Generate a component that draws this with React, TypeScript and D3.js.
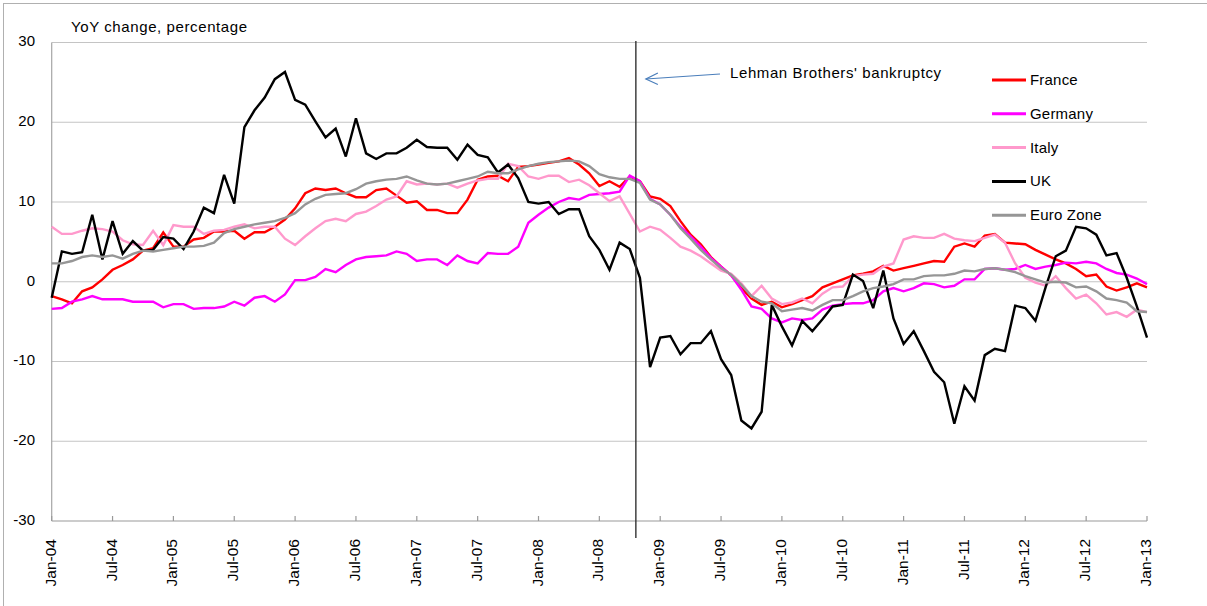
import { useMemo } from 'react';
import * as d3 from 'd3';

const width = 1207;
const height = 606;

const specs = {
  left: 51.7,
  right: 1147,
  top: 42.5,
  bottom: 521,
};

const FONT = '"Liberation Sans", Arial, sans-serif';

// tick labels every 6 months, Jan-04 .. Jan-13
const tickLabels = [
  'Jan-04', 'Jul-04', 'Jan-05', 'Jul-05', 'Jan-06', 'Jul-06', 'Jan-07', 'Jul-07',
  'Jan-08', 'Jul-08', 'Jan-09', 'Jul-09', 'Jan-10', 'Jul-10', 'Jan-11', 'Jul-11',
  'Jan-12', 'Jul-12', 'Jan-13',
];
const yTicks = [30, 20, 10, 0, -10, -20, -30];

// monthly YoY %, Jan-04 .. Jan-13 (109 points)
const france = [
  -1.8, -2.2, -2.7, -1.2, -0.7, 0.3, 1.5, 2.1, 2.8, 3.9, 4.2, 6.2,
  4.4, 4.4, 5.3, 5.5, 6.3, 6.3, 6.4, 5.4, 6.2, 6.2, 6.9, 7.8,
  9.2, 11.1, 11.7, 11.5, 11.7, 11.1, 10.6, 10.6, 11.5, 11.7, 10.8, 9.9,
  10.1, 9.0, 9.0, 8.6, 8.6, 10.3, 12.8, 13.2, 13.3, 12.6, 14.4, 14.5,
  14.7, 14.9, 15.1, 15.5, 14.7, 13.6, 12.0, 12.6, 11.9, 13.2, 12.6, 10.7,
  10.4, 9.5, 7.6, 5.9, 4.7, 3.1, 1.9, 0.8, -0.8, -2.1, -2.9, -2.5,
  -3.2, -2.8, -2.3, -1.8, -0.7, -0.2, 0.3, 0.8, 1.0, 1.3, 2.0, 1.4,
  1.7, 2.0, 2.3, 2.6, 2.5, 4.4, 4.8, 4.4, 5.8, 6.0, 4.9, 4.8,
  4.7, 4.0, 3.4, 2.8, 2.3, 1.6, 0.7, 0.9, -0.6, -1.1, -0.7, -0.2,
  -0.7,
];

const germany = [
  -3.4, -3.3, -2.5, -2.2, -1.8, -2.2, -2.2, -2.2, -2.5, -2.5, -2.5, -3.2,
  -2.8, -2.8, -3.4, -3.3, -3.3, -3.1, -2.5, -3.0, -2.0, -1.8, -2.5, -1.6,
  0.2, 0.2, 0.6, 1.6, 1.2, 2.1, 2.8, 3.1, 3.2, 3.3, 3.8, 3.5,
  2.6, 2.8, 2.8, 2.1, 3.3, 2.6, 2.3, 3.6, 3.5, 3.5, 4.4, 7.4,
  8.4, 9.3, 10.0, 10.5, 10.3, 10.9, 11.0, 11.1, 11.3, 13.3, 12.6, 10.4,
  9.7, 8.4, 6.9, 5.7, 4.4, 3.0, 1.9, 0.8, -1.0, -3.1, -3.4, -4.6,
  -5.1, -4.6, -4.8, -4.6, -3.5, -3.0, -2.8, -2.7, -2.7, -2.3, -1.2, -0.8,
  -1.2, -0.8, -0.2, -0.3, -0.7, -0.5, 0.3, 0.3, 1.6, 1.7, 1.5, 1.6,
  2.1, 1.6, 1.9, 2.1, 2.4, 2.3, 2.5, 2.3, 1.6, 1.1, 0.9, 0.4,
  -0.3,
];

const italy = [
  6.9, 6.0, 6.0, 6.4, 6.7, 6.6, 6.3, 5.2, 4.7, 4.6, 6.4, 4.6,
  7.1, 6.9, 6.9, 6.0, 6.4, 6.5, 6.9, 7.2, 6.7, 6.9, 6.9, 5.4,
  4.6, 5.7, 6.7, 7.6, 7.9, 7.6, 8.5, 8.8, 9.5, 10.3, 10.7, 12.6,
  12.2, 12.3, 12.2, 12.3, 11.8, 12.3, 12.7, 12.9, 12.9, 14.8, 14.5, 13.2,
  12.9, 13.3, 13.3, 12.5, 12.8, 12.1, 11.1, 10.1, 10.7, 8.5, 6.3, 6.9,
  6.5, 5.5, 4.4, 3.9, 3.2, 2.3, 1.4, 1.0, -0.2, -1.8, -0.5, -2.1,
  -2.8, -2.6, -2.1, -2.7, -1.5, -0.7, -0.6, 0.7, 0.9, 1.0, 1.9, 2.3,
  5.3, 5.7, 5.5, 5.5, 6.0, 5.4, 5.2, 5.1, 5.5, 5.9, 4.9, 2.3,
  0.5, -0.1, -0.5, 0.7, -0.8, -2.1, -1.6, -2.7, -4.1, -3.8, -4.4, -3.5,
  -3.8,
];

const uk = [
  -2.0, 3.8, 3.5, 3.7, 8.4, 2.8, 7.6, 3.5, 5.1, 3.9, 4.0, 5.6,
  5.4, 4.1, 6.3, 9.3, 8.6, 13.4, 9.8, 19.4, 21.5, 23.1, 25.4, 26.3,
  22.8, 22.2, 20.1, 18.1, 19.2, 15.7, 20.5, 16.1, 15.4, 16.1, 16.1, 16.8,
  17.8, 16.9, 16.8, 16.8, 15.3, 17.2, 15.9, 15.6, 13.7, 14.7, 13.0, 10.0,
  9.8, 10.0, 8.5, 9.1, 9.1, 5.7, 4.0, 1.5, 4.9, 4.1, 0.5, -10.7,
  -7.0, -6.8, -9.1, -7.7, -7.7, -6.2, -9.7, -11.7, -17.4, -18.4, -16.3, -2.9,
  -5.6, -8.0, -4.9, -6.2, -4.7, -3.1, -2.9, 0.9, 0.1, -3.3, 1.4, -4.6,
  -7.8, -6.2, -8.7, -11.3, -12.6, -17.8, -13.1, -14.9, -9.2, -8.4, -8.7, -3.0,
  -3.3, -4.9, -0.7, 3.2, 3.9, 6.9, 6.7, 5.9, 3.3, 3.6, 0.5, -3.1,
  -7.0,
];

const euroZone = [
  2.3, 2.3, 2.6, 3.1, 3.3, 3.1, 3.3, 2.9, 3.5, 3.9, 3.8, 4.0,
  4.2, 4.4, 4.4, 4.5, 4.9, 6.1, 6.6, 6.9, 7.2, 7.4, 7.6, 8.0,
  8.6, 9.7, 10.4, 10.9, 11.0, 11.1, 11.6, 12.3, 12.6, 12.8, 12.9, 13.2,
  12.7, 12.3, 12.2, 12.3, 12.6, 12.9, 13.2, 13.8, 13.6, 13.6, 14.1, 14.5,
  14.8, 15.0, 15.1, 15.2, 15.1, 14.5, 13.5, 13.1, 12.9, 12.9, 12.4, 10.3,
  9.7, 8.4, 6.7, 5.4, 4.0, 2.8, 1.7, 0.9, -0.4, -1.8, -2.5, -2.7,
  -3.7, -3.5, -3.3, -3.6, -2.9, -2.3, -2.3, -1.8, -1.2, -0.8, -0.6, -0.3,
  0.3, 0.3, 0.7, 0.8, 0.8, 1.0, 1.4, 1.3, 1.6, 1.7, 1.5, 1.2,
  0.7, 0.3, -0.1, 0.0, -0.1, -0.7, -0.6, -1.2, -2.1, -2.3, -2.6, -3.7,
  -3.8,
];

const seriesNames = ['France', 'Germany', 'Italy', 'UK', 'Euro Zone'];
const seriesValues = [france, germany, italy, uk, euroZone];
const seriesColors = ['#ff0000', '#ff00ff', '#ff99cc', '#000000', '#969696'];

// Lehman Brothers' bankruptcy marker, in months from Jan-04
const lehmanMonth = 57.6;

const App = () => {
  const x = d3.scaleLinear().domain([0, 108]).range([specs.left, specs.right]);
  const y = d3.scaleLinear().domain([-30, 30]).range([specs.bottom, specs.top]);

  const paths = useMemo(() => {
    const line = d3.line<number>()
      .x((_, i) => x(i))
      .y((d) => y(d));
    return seriesValues.map((s) => line(s));
  }, []);

  const lx = x(lehmanMonth);

  return (
    <svg width={width} height={height} style={{ position: 'absolute', left: 0, top: 0, background: '#fff' }}
      fontFamily={FONT}>
      <rect x={3.5} y={3.5} width={1210} height={610} fill="none" stroke="#b0b0b0" />

      {/* gridlines */}
      {yTicks.filter((t) => t > -30).map((t) => (
        <line key={t} x1={specs.left} x2={specs.right} y1={y(t)} y2={y(t)} stroke="#c4c4c4" strokeWidth={1.2} />
      ))}

      {/* axes */}
      <line x1={specs.left} x2={specs.left} y1={specs.top} y2={specs.bottom} stroke="#a6a6a6" strokeWidth={1.2} />
      <line x1={specs.left} x2={specs.right} y1={specs.bottom} y2={specs.bottom} stroke="#999" strokeWidth={1.2} />
      {tickLabels.map((lab, k) => {
        const tx = x(k * 6);
        return (
          <g key={lab}>
            <line x1={tx} x2={tx} y1={specs.bottom - 5} y2={specs.bottom} stroke="#999" strokeWidth={1.2} />
            <text transform={`translate(${tx},${specs.bottom + 18}) rotate(-90)`} textAnchor="end"
              dominantBaseline="middle" fontSize={15.5} fill="#000">{lab}</text>
          </g>
        );
      })}
      {yTicks.map((t) => (
        <text key={t} x={35} y={y(t)} textAnchor="end" dominantBaseline="middle" fontSize={15} fill="#000">{t}</text>
      ))}

      <text x={71} y={32} fontSize={15} letterSpacing={0.6} fill="#000">YoY change, percentage</text>

      {/* series */}
      {paths.map((d, i) => (
        <path key={seriesNames[i]} d={d ?? ''} fill="none" stroke={seriesColors[i]} strokeWidth={2.4}
          strokeLinejoin="miter" strokeMiterlimit={3} />
      ))}

      {/* Lehman marker */}
      <line x1={lx} x2={lx} y1={41} y2={538} stroke="#333" strokeWidth={1.4} />
      <g stroke="#4a7ebb" strokeWidth={1.2} fill="none">
        <line x1={720} y1={74} x2={lx + 10} y2={79} />
        <polyline points={`${lx + 22},${73} ${lx + 10},${79} ${lx + 22},${84.5}`} />
      </g>
      <text x={730} y={74} dominantBaseline="middle" fontSize={15} letterSpacing={0.6} fill="#000">
        Lehman Brothers' bankruptcy
      </text>

      {/* legend */}
      {seriesNames.map((name, i) => {
        const ly = 80 + i * 33.8;
        return (
          <g key={name}>
            <line x1={992} x2={1026} y1={ly} y2={ly} stroke={seriesColors[i]} strokeWidth={3} />
            <text x={1030} y={ly + 1} dominantBaseline="middle" fontSize={15} letterSpacing={0.2} fill="#000">{name}</text>
          </g>
        );
      })}
    </svg>
  );
};

export default App;
